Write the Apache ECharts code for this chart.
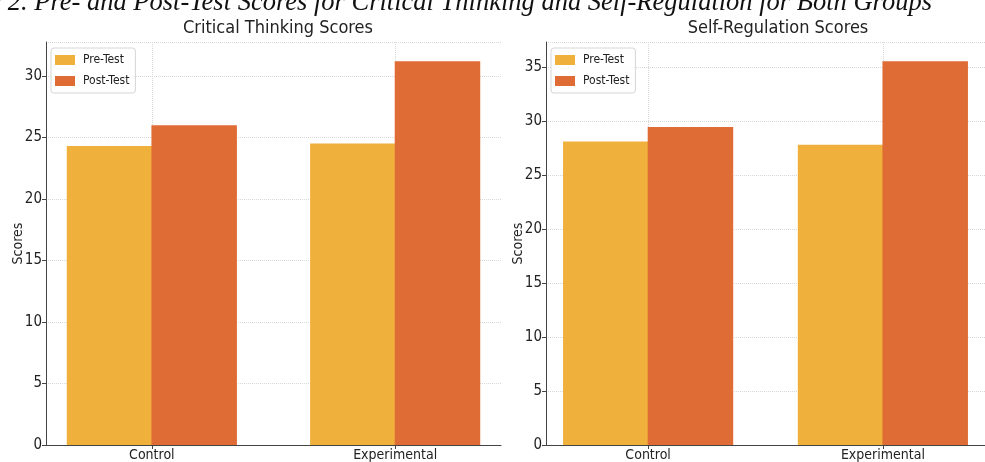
<!DOCTYPE html>
<html>
<head>
<meta charset="utf-8">
<script src="https://cdn.jsdelivr.net/npm/echarts@6/dist/echarts.min.js"></script>
<style>
html,body{margin:0;padding:0;background:#fff;}
#c{width:985px;height:462px;}
</style>
</head>
<body>
<div id="c"></div>
<script>
const categories = ['Control', 'Experimental'];
const seriesNames = ['Pre-Test', 'Post-Test'];
const criticalPre = [24.3, 24.5];
const criticalPost = [26.0, 31.2];
const selfRegPre = [28.1, 27.8];
const selfRegPost = [29.45, 35.55];
const yTicks = [0, 5, 10, 15, 20, 25, 30, 35];
const chartTitles = ['Critical Thinking Scores', 'Self-Regulation Scores'];
const caption = 'Figure 2. Pre- and Post-Test Scores for Critical Thinking and Self-Regulation for Both Groups';

const FONT = "'DejaVu Sans Condensed', 'DejaVu Sans', sans-serif";
const preColor = '#F0B03C';
const postColor = '#E06C35';
const axisColor = '#444';
const gridColor = '#d8d8d8';

const chart = echarts.init(document.getElementById('c'));

function xAxisFor(i) {
  return {
    type: 'value', gridIndex: i, min: -0.435, max: 1.435,
    axisLine: { show: true, onZero: false, lineStyle: { color: axisColor, width: 1 } },
    axisTick: { show: true, customValues: categories.map((c, k) => k), length: 4, lineStyle: { color: axisColor } },
    axisLabel: { customValues: categories.map((c, k) => k), formatter: v => categories[Math.round(v)] || '', color: '#222', fontSize: 14, fontFamily: FONT, margin: 3 },
    splitLine: { show: false }
  };
}
function yAxisFor(i, maxVal) {
  return {
    type: 'value', gridIndex: i, min: 0, max: maxVal, interval: 5,
    name: 'Scores', nameLocation: 'middle', nameGap: 21, nameRotate: 90, nameMoveOverlap: false,
    nameTextStyle: { color: '#222', fontSize: 14, fontFamily: FONT },
    axisLine: { show: true, onZero: false, lineStyle: { color: axisColor, width: 1 } },
    axisTick: { show: true, length: 4, lineStyle: { color: axisColor } },
    axisLabel: { color: '#222', fontSize: 15, fontFamily: FONT, margin: 4, showMaxLabel: false,
      formatter: v => (yTicks.indexOf(v) >= 0 ? String(v) : '') },
    splitLine: { show: true, lineStyle: { color: gridColor, type: 'dotted', width: 1 } }
  };
}
function barSeries(name, color, vals, idx) {
  return {
    type: 'bar', name: name, xAxisIndex: idx, yAxisIndex: idx,
    data: vals.map((v, k) => [k, v]),
    barWidth: 85.5, barGap: '-1%',
    itemStyle: { color: color },
    emphasis: { disabled: true },
    z: 10
  };
}
function gridLineSeries(idx) {
  return {
    type: 'line', xAxisIndex: idx, yAxisIndex: idx, data: [], silent: true,
    markLine: {
      silent: true, symbol: 'none', label: { show: false },
      lineStyle: { color: gridColor, type: 'dotted', width: 1 },
      data: categories.map((c, k) => ({ xAxis: k }))
    },
    z: 1
  };
}
function legendFor(left) {
  return {
    data: seriesNames, left: left, top: 48, orient: 'vertical',
    icon: 'rect', itemWidth: 20, itemHeight: 10, itemGap: 9,
    padding: [6, 6, 6, 4],
    backgroundColor: 'rgba(255,255,255,0.85)', borderColor: '#d5d5d5', borderWidth: 1, borderRadius: 3,
    textStyle: { color: '#222', fontSize: 12, fontFamily: FONT, padding: [0, 0, 0, 3] },
    selectedMode: false, z: 20
  };
}

const maxCT = Math.max(...criticalPre, ...criticalPost) * 1.05;
const maxSR = Math.max(...selfRegPre, ...selfRegPost) * 1.05;

chart.setOption({
  backgroundColor: '#fff',
  animation: false,
  title: [
    { text: chartTitles[0], left: 273, top: 14, textAlign: 'center', textStyle: { fontSize: 18, fontWeight: 'normal', color: '#222', fontFamily: FONT } },
    { text: chartTitles[1], left: 773, top: 14, textAlign: 'center', textStyle: { fontSize: 18, fontWeight: 'normal', color: '#222', fontFamily: FONT } }
  ],
  graphic: [{
    type: 'text', z: 30,
    style: { text: caption, x: 932, y: 17, textAlign: 'right', textVerticalAlign: 'bottom',
      font: "italic 26.5px 'Liberation Serif', serif", fill: '#111' }
  }],
  legend: [legendFor(51), legendFor(551)],
  grid: [
    { left: 46, top: 42, width: 455, bottom: 16, containLabel: false },
    { left: 546, top: 42, width: 454, bottom: 17, containLabel: false }
  ],
  xAxis: [xAxisFor(0), xAxisFor(1)],
  yAxis: [yAxisFor(0, maxCT), yAxisFor(1, maxSR)],
  series: [
    barSeries(seriesNames[0], preColor, criticalPre, 0),
    barSeries(seriesNames[1], postColor, criticalPost, 0),
    barSeries(seriesNames[0], preColor, selfRegPre, 1),
    barSeries(seriesNames[1], postColor, selfRegPost, 1),
    gridLineSeries(0),
    gridLineSeries(1)
  ]
});
</script>
</body>
</html>
